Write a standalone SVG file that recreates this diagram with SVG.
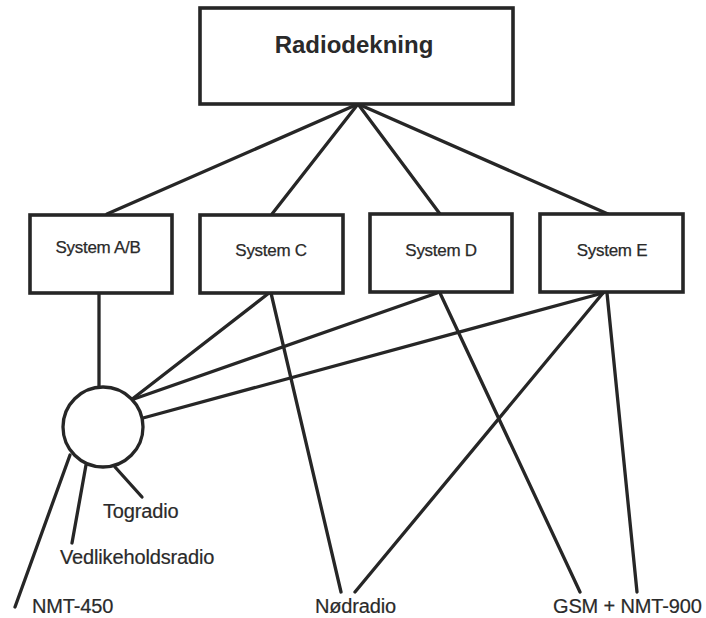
<svg xmlns="http://www.w3.org/2000/svg" width="706" height="618" viewBox="0 0 706 618">
<style>
.box{fill:#fff;stroke:#262626;stroke-width:3.6}
.ln{stroke:#262626;stroke-width:3.3;fill:none;stroke-linecap:round}
.t{font-family:"Liberation Sans",Arial,sans-serif;fill:#2a2a2a}
.sys{font-size:17px;letter-spacing:-0.3px;stroke:#2a2a2a;stroke-width:0.25}
.lbl{font-size:20px;letter-spacing:-0.15px;stroke:#2a2a2a;stroke-width:0.2}
</style>
<rect width="706" height="618" fill="#fff"/>
<g id="connectors">
<line class="ln" x1="358" y1="104" x2="107" y2="214"/>
<line class="ln" x1="358" y1="104" x2="272" y2="214"/>
<line class="ln" x1="358" y1="104" x2="440" y2="214"/>
<line class="ln" x1="358" y1="104" x2="608" y2="214"/>
<line class="ln" x1="99" y1="293" x2="99" y2="387"/>
<line class="ln" x1="269" y1="293" x2="131" y2="400"/>
<line class="ln" x1="437" y1="293" x2="131" y2="400"/>
<line class="ln" x1="603" y1="293" x2="143" y2="418"/>
<line class="ln" x1="271" y1="293" x2="341" y2="592"/>
<line class="ln" x1="603" y1="293" x2="355" y2="592"/>
<line class="ln" x1="440" y1="293" x2="580" y2="592"/>
<line class="ln" x1="607" y1="293" x2="637" y2="592"/>
<line class="ln" x1="70" y1="455" x2="15" y2="607"/>
<line class="ln" x1="86" y1="465" x2="72" y2="543"/>
<line class="ln" x1="115" y1="467" x2="142" y2="497"/>
</g>
<g id="radiodekning">
<rect class="box" x="200" y="8" width="313" height="96"/>
<text class="t" x="354" y="53" font-size="24" font-weight="bold" text-anchor="middle">Radiodekning</text>
</g>
<g id="system-ab">
<rect class="box" x="30" y="215" width="142" height="78"/>
<text class="t sys" x="98" y="253" text-anchor="middle">System A/B</text>
</g>
<g id="system-c">
<rect class="box" x="200" y="215" width="143" height="78"/>
<text class="t sys" x="271" y="256" text-anchor="middle">System C</text>
</g>
<g id="system-d">
<rect class="box" x="370" y="214" width="142" height="78"/>
<text class="t sys" x="441" y="256" text-anchor="middle">System D</text>
</g>
<g id="system-e">
<rect class="box" x="540" y="214" width="143" height="78"/>
<text class="t sys" x="612" y="256" text-anchor="middle">System E</text>
</g>
<g id="hub">
<circle cx="103" cy="427" r="40" fill="#fff" stroke="#262626" stroke-width="3.3"/>
</g>
<g id="togradio"><text class="t lbl" x="103" y="518">Togradio</text></g>
<g id="vedlikeholdsradio"><text class="t lbl" x="60" y="564">Vedlikeholdsradio</text></g>
<g id="nmt450"><text class="t lbl" x="32" y="613">NMT-450</text></g>
<g id="nodradio"><text class="t lbl" x="315" y="613">Nødradio</text></g>
<g id="gsm"><text class="t lbl" x="553" y="613">GSM + NMT-900</text></g>
</svg>
